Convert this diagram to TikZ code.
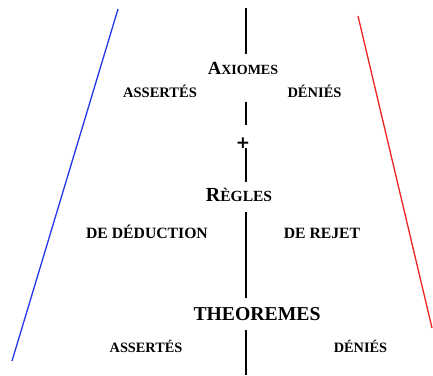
\documentclass[tikz,border=0pt]{standalone}
\usepackage{fontspec}
\setmainfont{Liberation Serif}
\newfontfamily\plusfont{DejaVu Sans}
\usetikzlibrary{positioning}
\definecolor{blue}{RGB}{35,55,230}
\definecolor{red}{RGB}{240,35,35}

% fake small capitals
\def\capsc#1#2#3#4{{\fontsize{#3}{#3}\selectfont #1}{\fontsize{#4}{#4}\selectfont #2}}

\begin{document}
\begin{tikzpicture}[x=1pt, y=-1pt,
  lbl/.style={font=\bfseries, anchor=base, inner sep=0pt},
  axis/.style={line width=1.3pt, black},
  side/.style={line width=1.3pt}]

\useasboundingbox (0,0) rectangle (433,375);

%---------------------------------------
% Values
%---------------------------------------
\def\xm{246}

%---------------------------------------
% Labels
%---------------------------------------
\node[lbl] (axiomes) at (243,74.3) {\capsc{A}{XIOMES}{18.6}{14}};
\node[lbl, font=\bfseries\fontsize{14.5}{15}\selectfont] (assA) at (160,97.5) {ASSERTÉS};
\node[lbl, font=\bfseries\fontsize{14.5}{15}\selectfont] (denA) at (314.5,97.5) {DÉNIÉS};
\node[font=\plusfont\bfseries\fontsize{17}{17}\selectfont, inner sep=0pt] (plus) at (243,143) {+};

\node[lbl] (regles) at (239,201.7) {\capsc{R}{ÈGLES}{20}{15.5}};
\node[lbl, font=\bfseries\fontsize{15.7}{16}\selectfont] (deduc) at (147,238.3) {DE DÉDUCTION};
\node[lbl, font=\bfseries\fontsize{15.7}{16}\selectfont] (rejet) at (322,238.3) {DE REJET};

\node[lbl, font=\bfseries\fontsize{19.7}{20}\selectfont] (theor) at (257,320) {THEOREMES};
\node[lbl, font=\bfseries\fontsize{14.3}{15}\selectfont] (assT) at (146,352.3) {ASSERTÉS};
\node[lbl, font=\bfseries\fontsize{14.3}{15}\selectfont] (denT) at (360.5,352.3) {DÉNIÉS};

%---------------------------------------
% Central line
%---------------------------------------
\coordinate (m0) at (\xm,8);
\coordinate (m1) at (\xm,54);
\coordinate (m2) at (\xm,102);
\coordinate (m3) at (\xm,125);
\coordinate (m4) at (\xm,148);
\coordinate (m5) at (\xm,182);
\coordinate (m6) at (\xm,212);
\coordinate (m7) at (\xm,298);
\coordinate (m8) at (\xm,330);
\coordinate (m9) at (\xm,375);
\foreach \a/\b in {m0/m1, m2/m3, m4/m5, m6/m7, m8/m9}
  \draw[axis] (\a) -- (\b);

%---------------------------------------
% Side lines
%---------------------------------------
\coordinate (bTop) at (118,9);
\coordinate (bBot) at (12,361);
\coordinate (rTop) at (358,16);
\coordinate (rBot) at (432,328);
\draw[side, blue] (bTop) -- (bBot);
\draw[side, red] (rTop) -- (rBot);

\end{tikzpicture}
\end{document}
